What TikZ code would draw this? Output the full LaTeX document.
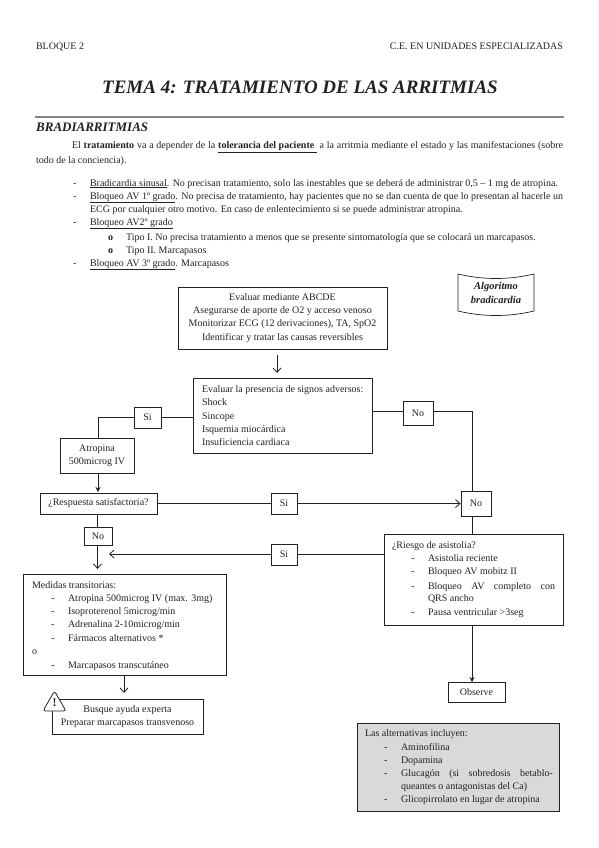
\documentclass[tikz,border=0pt]{standalone}
\usepackage{fontspec}
\usetikzlibrary{arrows.meta}
\setmainfont{Liberation Serif}
\newcounter{tl}
\definecolor{ink}{HTML}{222222}
\definecolor{panel}{HTML}{D9D9D9}
\tikzset{
  txt/.style={inner sep=0pt,outer sep=0pt,anchor=base west,text=ink,font=\fontsize{10}{12}\selectfont},
  flowbox/.style={draw=ink,line width=0.8pt,inner sep=0pt,text=ink,align=center,font=\fontsize{10}{13.2}\selectfont},
  conn/.style={draw=ink,line width=0.7pt},
  openarrow/.style={conn,-{Straight Barb[length=4.5pt,width=8pt,line width=0.8pt]}},
  solidarrow/.style={conn,-{Stealth[length=5pt,width=5pt]}},
  handtxt/.style={inner sep=0pt,text=ink,font=\itshape\bfseries}
}
\newcommand{\tx}[3]{\stepcounter{tl}\node[txt,name=t\arabic{tl}] at (#1,#2+3) {#3};}
\newcommand{\tj}[4]{\stepcounter{tl}\node[txt,name=t\arabic{tl}] at (#1,#2+3) {\makebox[#3pt][s]{#4}};}
\newcommand{\fbx}[7]{\node[flowbox,#7,minimum width=#4pt-#2pt,minimum height=#5pt-#3pt] (#1) at ({(#2+#4)/2},{(#3+#5)/2}) {#6};}
\begin{document}
\begin{tikzpicture}[x=1pt,y=-1pt]
\useasboundingbox (0,0) rectangle (599,848);
\fill[white] (0,0) rectangle (599,848);
% header
\tx{36}{47}{BLOQUE 2}
\node[txt,anchor=base east] (hdr) at (563,50) {C.E. EN UNIDADES ESPECIALIZADAS};
\node[handtxt,font=\fontsize{19}{22}\selectfont\itshape\bfseries] (title) at (300,87) {TEMA 4: TRATAMIENTO DE LAS ARRITMIAS};
\coordinate (ruleL) at (35,117);
\coordinate (ruleR) at (564,117);
\draw[draw=ink!55,line width=1.2pt] (ruleL) -- (ruleR);
\node[handtxt,anchor=west,font=\fontsize{13}{15}\selectfont\itshape\bfseries] (sec) at (36,127) {BRADIARRITMIAS};
% body text
\tj{72}{146}{491}{El \textbf{tratamiento} va a depender de la \underline{\textbf{tolerancia del paciente} } a la arritmia mediante el estado y las manifestaciones (sobre}
\tx{36}{160}{todo de la conciencia).}
\tx{73}{183}{-}
\tx{90}{183}{\underline{Bradicardia sinusal}. No precisan tratamiento, solo las inestables que se deberá de administrar 0,5 – 1 mg de atropina.}
\tx{73}{196}{-}
\tj{90}{196}{473}{\underline{Bloqueo AV 1º grado}. No precisa de tratamiento, hay pacientes que no se dan cuenta de que lo presentan al hacerle un}
\tx{90}{209}{ECG por cualquier otro motivo. En caso de enlentecimiento si se puede administrar atropina.}
\tx{73}{222}{-}
\tx{90}{222}{\underline{Bloqueo AV2º grado}}
\tx{108}{237}{\textbf{o}}
\tx{126}{237}{Tipo I. No precisa tratamiento a menos que se presente sintomatología que se colocará un marcapasos.}
\tx{108}{250}{\textbf{o}}
\tx{126}{250}{Tipo II. Marcapasos}
\tx{73}{263}{-}
\tx{90}{263}{\underline{Bloqueo AV 3º grado}. Marcapasos}
% algoritmo tag
\coordinate (tagA) at (458,274);
\coordinate (tagB) at (534,274);
\coordinate (tagC) at (534,311);
\coordinate (tagD) at (458,311);
\draw[draw=ink,line width=0.7pt] (tagA) .. controls (483,280) and (509,280) .. (tagB) -- (tagC) .. controls (509,317) and (483,317) .. (tagD) -- cycle;
\node[handtxt,align=center,font=\fontsize{10.5}{14}\selectfont\itshape\bfseries] (tag) at (496,292.5) {Algoritmo\\bradicardia};
% flow boxes
\fbx{abcde}{178}{287}{387}{349}{Evaluar mediante ABCDE\\Asegurarse de aporte de O2 y acceso venoso\\Monitorizar ECG (12 derivaciones), TA, SpO2\\Identificar y tratar las causas reversibles}{}
\fbx{signos}{193}{378}{372}{453}{}{}
\tx{202}{389}{Evaluar la presencia de signos adversos:}
\tx{202}{402}{Shock}
\tx{202}{416}{Sincope}
\tx{202}{429}{Isquemia miocárdica}
\tx{202}{442}{Insuficiencia cardiaca}
\fbx{si1}{134}{407}{161}{428}{Si}{}
\fbx{atropina}{60}{438}{134}{473}{Atropina\\500microg IV}{}
\fbx{resp}{40}{493}{157}{514}{¿Respuesta satisfactoria?}{}
\fbx{si2}{271}{493}{297}{514}{Si}{}
\fbx{no1}{403}{401}{433}{425}{No}{}
\fbx{no2}{461}{491}{491}{516}{No}{}
\fbx{no3}{84}{527}{112}{545}{No}{}
\fbx{si3}{271}{544}{297}{565}{Si}{}
\fbx{riesgo}{384}{534}{563}{625}{}{}
\tx{392}{545}{¿Riesgo de asistolia?}
\tx{411}{558}{-}\tx{428}{558}{Asistolia reciente}
\tx{411}{571}{-}\tx{428}{571}{Bloqueo AV mobitz II}
\tx{411}{586}{-}\tj{428}{586}{127}{Bloqueo AV completo con}
\tx{428}{598}{QRS ancho}
\tx{411}{612}{-}\tx{428}{612}{Pausa ventricular >3seg}
\fbx{medidas}{23}{574}{226}{675}{}{}
\tx{32}{585}{Medidas transitorias:}
\tx{51}{598}{-}\tx{68}{598}{Atropina 500microg IV (max. 3mg)}
\tx{51}{611}{-}\tx{68}{611}{Isoproterenol 5microg/min}
\tx{51}{624}{-}\tx{68}{624}{Adrenalina 2-10microg/min}
\tx{51}{638}{-}\tx{68}{638}{Fármacos alternativos *}
\tx{32}{651}{o}
\tx{51}{665}{-}\tx{68}{665}{Marcapasos transcutáneo}
\fbx{busque}{52}{699}{203}{734}{Busque ayuda experta\\Preparar marcapasos transvenoso}{}
\fbx{observe}{448}{682}{505}{702}{Observe}{}
\fbx{alt}{357}{723}{559}{811}{}{fill=panel}
\tx{365}{733}{Las alternativas incluyen:}
\tx{384}{747}{-}\tx{401}{747}{Aminofilina}
\tx{384}{760}{-}\tx{401}{760}{Dopamina}
\tx{384}{773}{-}\tj{401}{773}{152}{Glucagón (si sobredosis betablo-}
\tx{401}{786}{queantes o antagonistas del Ca)}
\tx{384}{799}{-}\tx{401}{799}{Glicopirrolato en lugar de atropina}
% warning sign
\coordinate (warnA) at (54.5,691);
\coordinate (warnB) at (66,711);
\coordinate (warnC) at (43,711);
\draw[draw=ink,line width=0.8pt,fill=white,rounded corners=2.5pt] (warnA) -- (warnB) -- (warnC) -- cycle;
\node[inner sep=0pt,text=ink,font=\fontsize{12}{12}\selectfont\bfseries] (warn) at (54.5,703) {!};
% connectors
\coordinate (abOut) at (277,355);
\coordinate (abIn) at (277,373);
\draw[openarrow] (abOut) -- (abIn);
\coordinate (sigSi) at (193,417.5);
\draw[conn] (sigSi) -- (si1.east);
\coordinate (siBend) at (98,417.5);
\draw[conn] (si1.west) -- (siBend) -- (siBend |- atropina.north);
\coordinate (atOut) at (98,473);
\coordinate (atIn) at (98,492);
\draw[solidarrow] (atOut) -- (atIn);
\draw[conn] (resp.east) -- (si2.west);
\draw[openarrow] (si2.east) -- (no2.west);
\coordinate (sigNo) at (372,411);
\draw[conn] (sigNo) -- (no1.west |- sigNo);
\coordinate (noBend) at (472,411);
\draw[conn] (no1.east |- noBend) -- (noBend) -- (noBend |- no2.north);
\coordinate (no2Out) at (472,516);
\draw[conn] (no2Out) -- (no2Out |- riesgo.north);
\coordinate (riW) at (384,554);
\draw[conn] (riW) -- (si3.east |- riW);
\coordinate (si3Tip) at (109,554);
\draw[openarrow] (si3.west |- si3Tip) -- (si3Tip);
\coordinate (respOut) at (97.5,514);
\draw[conn] (respOut) -- (respOut |- no3.north);
\coordinate (no3Out) at (97.5,545);
\coordinate (no3Tip) at (97.5,569);
\draw[openarrow] (no3Out) -- (no3Tip);
\coordinate (medOut) at (124,675);
\coordinate (medTip) at (124,693);
\draw[openarrow] (medOut) -- (medTip);
\coordinate (riOut) at (472,625);
\coordinate (riTip) at (472,682);
\draw[solidarrow] (riOut) -- (riTip);
\end{tikzpicture}
\end{document}
